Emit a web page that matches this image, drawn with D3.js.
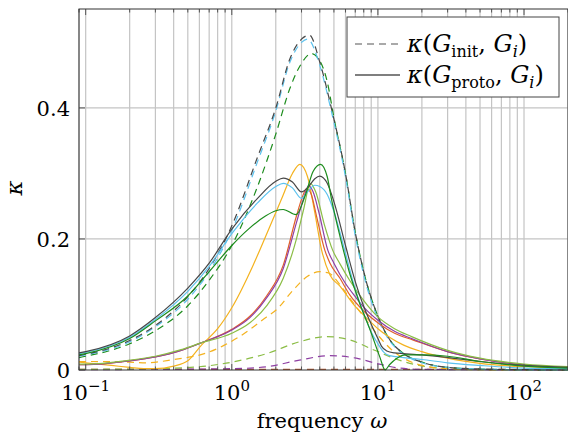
<!DOCTYPE html>
<html>
<head>
<meta charset="utf-8">
<script src="https://cdn.jsdelivr.net/npm/d3@7"></script>
<style>
  body { margin: 0; background: #fff; }
  svg { display: block; }
  svg text { font-family: "DejaVu Serif", "Liberation Serif", serif; }
</style>
</head>
<body>
<svg width="568" height="441"></svg>
<script>
// kappa(G_proto, G_i), one array per colour: [omega, kappa]
var protoGray = [[0.09,0.026],[0.1,0.028],[0.2,0.052],[0.3,0.08],[0.5,0.125],[0.7,0.163],[1,0.215],[1.5,0.262],[2,0.288],[2.25,0.293],[2.6,0.287],[3,0.272],[3.3,0.278],[3.7,0.292],[4,0.296],[4.5,0.285],[5,0.257],[6,0.19],[7,0.135],[8,0.097],[9,0.07],[10,0.048],[10.6,0.036],[11.5,0.029],[13,0.026],[15,0.025],[20,0.023],[30,0.019],[50,0.013],[100,0.007],[200,0.004]];
var protoBlue = [[0.09,0.025],[0.1,0.027],[0.2,0.05],[0.3,0.077],[0.5,0.12],[0.7,0.158],[1,0.208],[1.5,0.255],[2,0.28],[2.25,0.285],[2.6,0.278],[3,0.262],[3.3,0.272],[3.7,0.282],[4,0.28],[4.5,0.268],[5,0.242],[6,0.178],[7,0.123],[8,0.086],[9,0.058],[10,0.04],[11,0.027],[12,0.022],[15,0.019],[20,0.016],[30,0.011],[50,0.007],[100,0.003],[200,0.002]];
var protoGreen = [[0.09,0.023],[0.1,0.025],[0.2,0.048],[0.3,0.075],[0.5,0.113],[0.7,0.15],[1,0.19],[1.3,0.215],[1.7,0.235],[2,0.243],[2.25,0.245],[2.75,0.237],[3.2,0.268],[3.6,0.303],[4.05,0.314],[4.5,0.295],[4.8,0.262],[5.5,0.204],[6.4,0.148],[7.5,0.102],[8.85,0.061],[10.3,0.02],[11.2,0],[12,0.008],[13.5,0.018],[15.5,0.023],[20,0.023],[30,0.021],[50,0.013],[100,0.006],[200,0.003]];
var protoOrange = [[0.09,0.012],[0.1,0.011],[0.15,0.007],[0.2,0.004],[0.25,0.002],[0.3,0.002],[0.4,0.006],[0.5,0.014],[0.62,0.038],[0.8,0.063],[1,0.095],[1.4,0.16],[1.75,0.21],[2.2,0.262],[2.6,0.3],[2.92,0.314],[3.3,0.295],[3.7,0.24],[4.1,0.185],[4.7,0.145],[5.5,0.128],[7,0.097],[8.5,0.078],[10,0.063],[12,0.05],[15,0.038],[20,0.028],[30,0.018],[50,0.01],[100,0.005],[200,0.003]];
var protoRed = [[0.09,0.008],[0.1,0.008],[0.2,0.014],[0.3,0.02],[0.45,0.03],[0.61,0.041],[1,0.062],[1.33,0.082],[1.73,0.113],[2.25,0.16],[2.77,0.235],[3.05,0.265],[3.25,0.277],[3.5,0.268],[3.8,0.235],[4.33,0.183],[4.7,0.163],[5.5,0.14],[6.4,0.115],[8,0.09],[10.3,0.07],[13,0.056],[17.3,0.046],[31,0.027],[50,0.017],[100,0.008],[200,0.004]];
var protoPurple = [[0.09,0.008],[0.1,0.008],[0.2,0.014],[0.3,0.02],[0.45,0.03],[0.61,0.041],[1,0.061],[1.33,0.08],[1.73,0.11],[2.25,0.155],[2.77,0.225],[3.1,0.262],[3.35,0.281],[3.6,0.272],[3.95,0.24],[4.54,0.183],[5,0.163],[6,0.132],[7,0.112],[8,0.096],[10,0.076],[13,0.059],[17,0.048],[30,0.028],[50,0.017],[100,0.008],[200,0.004]];
var protoOlive = [[0.09,0.009],[0.1,0.009],[0.2,0.015],[0.3,0.021],[0.45,0.031],[0.61,0.041],[1,0.056],[1.33,0.072],[1.73,0.098],[2.25,0.14],[2.77,0.2],[3.1,0.245],[3.45,0.285],[3.75,0.272],[4.3,0.222],[4.9,0.183],[5.5,0.162],[6.4,0.137],[8,0.106],[10,0.081],[13,0.063],[17,0.051],[30,0.03],[50,0.018],[100,0.009],[200,0.005]];

// kappa(G_init, G_i)
var initGray = [[0.09,0.022],[0.1,0.024],[0.2,0.045],[0.3,0.068],[0.5,0.112],[0.7,0.155],[1,0.22],[1.5,0.325],[2,0.4],[2.5,0.475],[3,0.505],[3.4,0.511],[4,0.47],[4.8,0.4],[6,0.3],[7,0.21],[8,0.15],[10,0.082],[12,0.047],[15,0.025],[20,0.012],[30,0.004],[50,0.0015],[100,0.0005],[200,0]];
var initBlue = [[0.09,0.021],[0.1,0.023],[0.2,0.043],[0.3,0.066],[0.5,0.108],[0.7,0.15],[1,0.213],[1.5,0.318],[2,0.395],[2.5,0.47],[3,0.5],[3.3,0.505],[4,0.465],[4.8,0.395],[6,0.295],[7,0.205],[8,0.145],[10,0.078],[12,0.045],[15,0.024],[20,0.011],[30,0.004],[50,0.0015],[100,0],[200,0]];
var initGreen = [[0.09,0.019],[0.1,0.021],[0.2,0.04],[0.3,0.06],[0.5,0.098],[0.7,0.137],[1,0.19],[1.5,0.28],[2,0.36],[2.5,0.43],[3,0.468],[3.5,0.483],[4,0.472],[4.5,0.44],[5,0.385],[6,0.3],[7,0.21],[8,0.15],[10,0.082],[12,0.047],[15,0.025],[20,0.012],[30,0.004],[50,0.0015],[100,0.0005],[200,0]];
var initOrange = [[0.09,0.013],[0.1,0.013],[0.2,0.012],[0.26,0.011],[0.4,0.016],[0.67,0.026],[1.13,0.051],[1.73,0.081],[2.02,0.092],[2.63,0.122],[3.3,0.143],[4,0.15],[4.6,0.148],[5.5,0.13],[6.4,0.11],[8.4,0.075],[10.3,0.05],[12.4,0.031],[15,0.018],[20,0.007],[30,0.002],[50,0.0005],[100,0],[200,0]];
var initOlive = [[0.09,0.001],[0.3,0.002],[0.6,0.005],[1,0.012],[1.73,0.025],[2.9,0.043],[4.45,0.051],[6.4,0.046],[9.3,0.031],[14,0.015],[21.6,0.005],[30,0.002],[50,0.0005],[200,0]];
var initPurple = [[0.09,0.0005],[1,0.002],[1.73,0.005],[2.9,0.015],[4.7,0.022],[7.1,0.018],[9.8,0.01],[14,0.003],[20,0.001],[200,0]];
var initRed = [[0.09,0.001],[1,0.001],[10,0.001],[200,0.001]];

var xTickValues = [0.1, 1, 10, 100];
var xTickExp = ["\u22121", "0", "1", "2"];
var yTickValues = [0, 0.2, 0.4];
var yTickLabels = ["0", "0.2", "0.4"];

var colGray = "#474747", colBlue = "#5cc2ee", colGreen = "#1c8c1c", colOrange = "#f4b21e",
    colRed = "#e0602c", colPurple = "#8e3fa3", colOlive = "#8bbd45", colBrown = "#b45a32";

var dashedSeries = [
  { data: initRed, color: colBrown },
  { data: initPurple, color: colPurple },
  { data: initOlive, color: colOlive },
  { data: initOrange, color: colOrange },
  { data: initGreen, color: colGreen },
  { data: initBlue, color: colBlue },
  { data: initGray, color: colGray }
];
var solidSeries = [
  { data: protoOrange, color: colOrange },
  { data: protoRed, color: colRed },
  { data: protoPurple, color: colPurple },
  { data: protoOlive, color: colOlive },
  { data: protoBlue, color: colBlue },
  { data: protoGray, color: colGray },
  { data: protoGreen, color: colGreen }
];

var pLeft = 79, pRight = 568, pTop = 9, pBottom = 370;

var svg = d3.select("svg");

var x = d3.scaleLog().domain([0.09, 200]).range([pLeft, pRight]);
var y = d3.scaleLinear().domain([0, 0.551]).range([pBottom, pTop]);

// grid
var gridTicks = x.ticks();
svg.append("g")
  .selectAll("line")
  .data(gridTicks)
  .enter().append("line")
    .attr("x1", function (d) { return x(d) }).attr("x2", function (d) { return x(d) })
    .attr("y1", pTop).attr("y2", pBottom)
    .attr("stroke", "#c4c4c4").attr("stroke-width", 1.2);

svg.append("g")
  .selectAll("line")
  .data(yTickValues.slice(1))
  .enter().append("line")
    .attr("x1", pLeft).attr("x2", pRight)
    .attr("y1", function (d) { return y(d) }).attr("y2", function (d) { return y(d) })
    .attr("stroke", "#c4c4c4").attr("stroke-width", 1.2);

svg.append("clipPath").attr("id", "clip")
  .append("rect").attr("x", pLeft).attr("y", pTop)
  .attr("width", pRight - pLeft).attr("height", pBottom - pTop + 1);

var line = d3.line()
  .x(function (d) { return x(d[0]) })
  .y(function (d) { return y(d[1]) })
  .curve(d3.curveMonotoneX);

var plot = svg.append("g").attr("clip-path", "url(#clip)");

plot.selectAll("path.dashed")
  .data(dashedSeries)
  .enter().append("path")
    .attr("class", "dashed")
    .attr("d", function (s) { return line(s.data) })
    .attr("fill", "none")
    .attr("stroke", function (s) { return s.color })
    .attr("stroke-width", 1.2)
    .attr("stroke-dasharray", "7,5");

plot.selectAll("path.solid")
  .data(solidSeries)
  .enter().append("path")
    .attr("class", "solid")
    .attr("d", function (s) { return line(s.data) })
    .attr("fill", "none")
    .attr("stroke", function (s) { return s.color })
    .attr("stroke-width", 1.2);

// ticks (inward, pgfplots style)
var tickG = svg.append("g").attr("stroke", "#555").attr("stroke-width", 1);
gridTicks.forEach(function (d) {
  var major = xTickValues.indexOf(d) >= 0;
  var len = major ? 6 : 3.5;
  tickG.append("line").attr("x1", x(d)).attr("x2", x(d)).attr("y1", pBottom).attr("y2", pBottom - len);
  tickG.append("line").attr("x1", x(d)).attr("x2", x(d)).attr("y1", pTop).attr("y2", pTop + len);
});
yTickValues.forEach(function (d) {
  tickG.append("line").attr("x1", pLeft).attr("x2", pLeft + 6).attr("y1", y(d)).attr("y2", y(d));
});

// frame
svg.append("rect")
  .attr("x", pLeft).attr("y", pTop)
  .attr("width", pRight - pLeft).attr("height", pBottom - pTop)
  .attr("fill", "none").attr("stroke", "#333").attr("stroke-width", 1);

// y tick labels
svg.append("g")
  .selectAll("text")
  .data(yTickValues)
  .enter().append("text")
    .attr("x", pLeft - 9)
    .attr("y", function (d) { return y(d) + 8 })
    .attr("text-anchor", "end")
    .attr("font-size", 21)
    .text(function (d, i) { return yTickLabels[i] });

// x tick labels 10^k
var xl = svg.append("g").selectAll("text")
  .data(xTickValues)
  .enter().append("text")
    .attr("x", function (d) { return x(d) })
    .attr("y", 400)
    .attr("text-anchor", "middle")
    .attr("font-size", 21);
xl.append("tspan").text("10");
xl.append("tspan")
  .attr("dy", -9)
  .attr("font-size", 15)
  .text(function (d, i) { return xTickExp[i] });

// axis labels
svg.append("text")
  .attr("x", 322).attr("y", 428)
  .attr("text-anchor", "middle")
  .attr("font-size", 21)
  .html('frequency <tspan font-style="italic">\u03C9</tspan>');

svg.append("text")
  .attr("transform", "translate(22,188) rotate(-90)")
  .attr("text-anchor", "middle")
  .attr("font-size", 23)
  .attr("font-style", "italic")
  .text("\u03BA");

// legend
var lg = svg.append("g");
lg.append("rect")
  .attr("x", 347).attr("y", 17).attr("width", 212).attr("height", 80)
  .attr("fill", "#fff").attr("stroke", "#444").attr("stroke-width", 1);
lg.append("line")
  .attr("x1", 355).attr("x2", 398).attr("y1", 44).attr("y2", 44)
  .attr("stroke", "#555").attr("stroke-width", 1.2).attr("stroke-dasharray", "7,5");
lg.append("line")
  .attr("x1", 355).attr("x2", 400).attr("y1", 75).attr("y2", 75)
  .attr("stroke", "#000").attr("stroke-width", 1.2);

var legendRows = [
  { y: 52, sub: "init" },
  { y: 83, sub: "proto" }
];
legendRows.forEach(function (r) {
  var t = lg.append("text").attr("x", 407).attr("y", r.y).attr("font-size", 24);
  t.append("tspan").attr("font-style", "italic").text("\u03BA");
  t.append("tspan").text("(");
  t.append("tspan").attr("font-style", "italic").text("G");
  t.append("tspan").attr("font-size", 16).attr("dy", 5).text(r.sub);
  t.append("tspan").attr("dy", -5).text(", ");
  t.append("tspan").attr("font-style", "italic").text("G");
  t.append("tspan").attr("font-size", 16).attr("dy", 5).attr("font-style", "italic").text("i");
  t.append("tspan").attr("dy", -5).text(")");
});
</script>
</body>
</html>
